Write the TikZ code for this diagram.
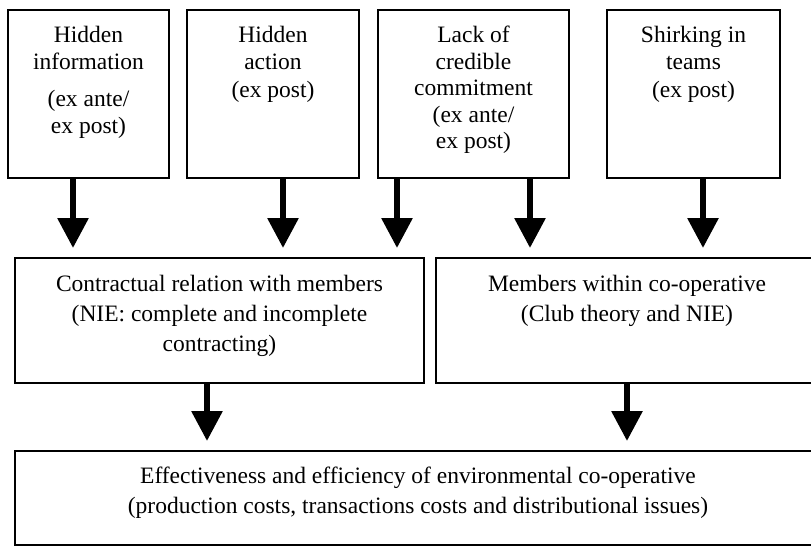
\documentclass[tikz,border=0pt]{standalone}
\usepackage{fontspec}
\setmainfont{Liberation Serif}
\usetikzlibrary{arrows.meta,positioning}
\tikzset{
  box/.style={draw,line width=1pt,inner sep=0pt},
  txt/.style={anchor=north,align=center,inner sep=0pt,font=\fontsize{11.75}{13.25}\selectfont},
  txtlow/.style={txt,font=\fontsize{11.75}{15}\selectfont},
  arr/.style={line width=3pt,-{Triangle[width=15pt,length=15pt]},shorten >=4.5pt}
}
\begin{document}
\begin{tikzpicture}[x=0.5pt,y=-0.5pt]
      \useasboundingbox (0,0) rectangle (811,547);
      \node[box,minimum width=80.5pt,minimum height=84pt] (info) at (88.5,94) {};
      \node[box,minimum width=86pt,minimum height=84pt] (action) at (273,94) {};
      \node[box,minimum width=95.5pt,minimum height=84pt] (commit) at (473.5,94) {};
      \node[box,minimum width=86.5pt,minimum height=84pt] (shirk) at (693.5,94) {};
      \node[box,minimum width=204.5pt,minimum height=62.5pt] (contract) at (219.5,320.5) {};
      \node[box,minimum width=191pt,minimum height=62.5pt] (members) at (627,320.5) {};
      \node[box,minimum width=403pt,minimum height=47pt] (effect) at (418,498) {};
      \node[txt,below=8.5pt of info.north] {Hidden\\information\\[5.5pt](ex ante/\\ex post)};
      \node[txt,below=8.5pt of action.north] {Hidden\\action\\[1pt](ex post)};
      \node[txt,below=8.5pt of commit.north] {Lack of\\credible\\commitment\\(ex ante/\\ex post)};
      \node[txt,below=8.5pt of shirk.north] {Shirking in\\teams\\[1pt](ex post)};
      \node[txtlow,below=9pt of contract.north] {Contractual relation with members\\(NIE: complete and incomplete\\contracting)};
      \node[txtlow,below=9pt of members.north] {Members within co-operative\\(Club theory and NIE)};
      \node[txtlow,below=8.5pt of effect.north] {Effectiveness and efficiency of environmental co-operative\\(production costs, transactions costs and distributional issues)};
      \coordinate (x1) at (73,0);
      \coordinate (x2) at (283,0);
      \coordinate (x3) at (397,0);
      \coordinate (x4) at (530,0);
      \coordinate (x5) at (703,0);
      \coordinate (x6) at (207,0);
      \coordinate (x7) at (627,0);
      \begin{scope}[arr]
        \draw (info.south -| x1) to (contract.north -| x1);
        \draw (action.south -| x2) to (contract.north -| x2);
        \draw (commit.south -| x3) to (contract.north -| x3);
        \draw (commit.south -| x4) to (members.north -| x4);
        \draw (shirk.south -| x5) to (members.north -| x5);
        \draw (contract.south -| x6) to (effect.north -| x6);
        \draw (members.south -| x7) to (effect.north -| x7);
      \end{scope}
    \end{tikzpicture}
\end{document}
